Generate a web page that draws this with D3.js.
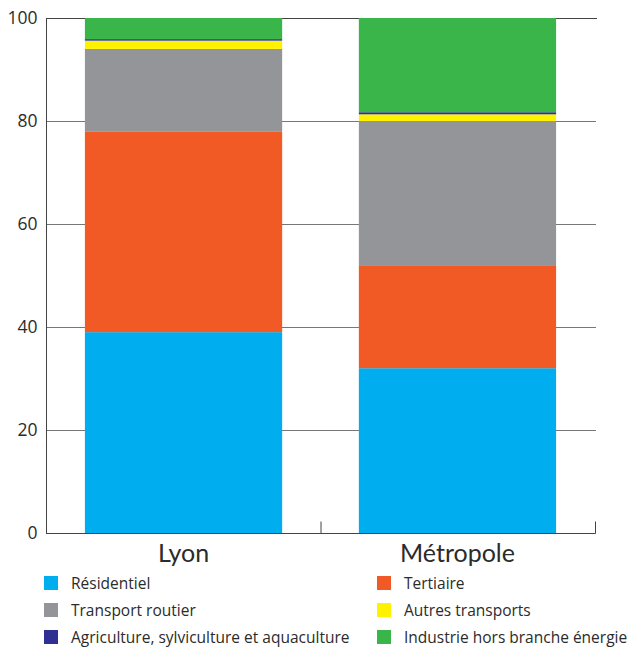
<!DOCTYPE html>
<html>
<head>
<meta charset="utf-8">
<script src="https://cdn.jsdelivr.net/npm/d3@7"></script>
<style>
  html, body { margin: 0; padding: 0; background: #fff; }
  svg { display: block; font-family: Lato, "Open Sans", sans-serif; }
</style>
</head>
<body>
<svg id="chart" width="631" height="650"></svg>
<script>
// Sector shares of consumption (%) for the city and the metropolitan area
const places = ["Lyon", "Métropole"];
const sectors = ["Résidentiel", "Tertiaire", "Transport routier", "Autres transports",
                 "Agriculture, sylviculture et aquaculture", "Industrie hors branche énergie"];
const residentiel = [39, 32];
const tertiaire = [39, 20];
const transportRoutier = [16, 28];
const autresTransports = [1.6, 1.3];
const agriculture = [0.3, 0.4];
const industrie = [4.1, 18.3];
const yTicks = [0, 20, 40, 60, 80, 100];
const colors = ["#00aeef", "#f15a24", "#939598", "#fff200", "#2e3192", "#39b54a"];

const series = [residentiel, tertiaire, transportRoutier, autresTransports, agriculture, industrie];
const rows = places.map((p, i) => {
  const r = { place: p };
  sectors.forEach((s, k) => { r[s] = series[k][i]; });
  return r;
});

const svg = d3.select("#chart");
const plotLeft = 46, plotRight = 595, plotTop = 18, plotBottom = 533;
const textColor = "#2b2b2b";

const x = d3.scaleBand().domain(places).range([plotLeft, plotRight])
  .paddingInner(0.28).paddingOuter(0.142);
const y = d3.scaleLinear().domain([0, 100]).range([plotBottom, plotTop]);
const color = d3.scaleOrdinal().domain(sectors).range(colors);

// Horizontal gridlines
svg.append("g")
  .selectAll("line")
  .data(yTicks.filter(t => t > 0))
  .join("line")
  .attr("x1", plotLeft).attr("x2", d => d === 100 ? plotRight + 2 : plotRight + 1)
  .attr("y1", d => y(d) + 0.5).attr("y2", d => y(d) + 0.5)
  .attr("stroke", d => d === 100 ? "#444" : "#777")
  .attr("stroke-width", 1);

// Stacked bars
const stacked = d3.stack().keys(sectors)(rows);
svg.append("g")
  .selectAll("g")
  .data(stacked)
  .join("g")
  .attr("fill", d => color(d.key))
  .selectAll("rect")
  .data(d => d)
  .join("rect")
  .attr("x", d => x(d.data.place))
  .attr("width", x.bandwidth())
  .attr("y", d => y(d[1]))
  .attr("height", d => y(d[0]) - y(d[1]));

// Y axis
const yAxis = d3.axisLeft(y).tickValues(yTicks).tickSize(0).tickPadding(9);
const gy = svg.append("g").attr("transform", `translate(${plotLeft + 0.5},0)`).call(yAxis);
gy.select(".domain").attr("stroke", "#444").attr("d", `M0,${plotTop}V${plotBottom + 0.5}`);
gy.selectAll("text").attr("font-size", 17.5).attr("fill", textColor)
  .attr("font-family", "'Open Sans', Lato, sans-serif");

// X axis baseline with small upward ticks between and after the bars
const gx = svg.append("g").attr("transform", `translate(0,${plotBottom + 0.5})`);
gx.append("line").attr("x1", plotLeft).attr("x2", plotRight + 0.5)
  .attr("stroke", "#444");
const step = x.step();
const tickXs = places.map(p => x(p) + x.bandwidth() + step * x.paddingInner() / 2);
tickXs[tickXs.length - 1] = plotRight;
gx.selectAll(".tk").data(tickXs).join("line").attr("class", "tk")
  .attr("x1", d => d + 0.5).attr("x2", d => d + 0.5)
  .attr("y1", 0).attr("y2", -12).attr("stroke", "#444");
gx.selectAll(".cat").data(places).join("text").attr("class", "cat")
  .attr("x", d => x(d) + x.bandwidth() / 2)
  .attr("y", 28)
  .attr("text-anchor", "middle")
  .attr("font-size", 25)
  .attr("fill", textColor)
  .text(d => d);

// Legend in two columns
const legend = svg.append("g");
const item = legend.selectAll("g").data(sectors).join("g")
  .attr("transform", (d, i) => `translate(${i % 2 === 0 ? 44 : 377},${576 + Math.floor(i / 2) * 27})`);
item.append("rect").attr("width", 14).attr("height", 14).attr("fill", d => color(d));
item.append("text").attr("x", 27).attr("y", 13)
  .attr("font-family", "'Open Sans', Lato, sans-serif")
  .attr("font-size", 15.5).attr("fill", textColor).text(d => d);
</script>
</body>
</html>
